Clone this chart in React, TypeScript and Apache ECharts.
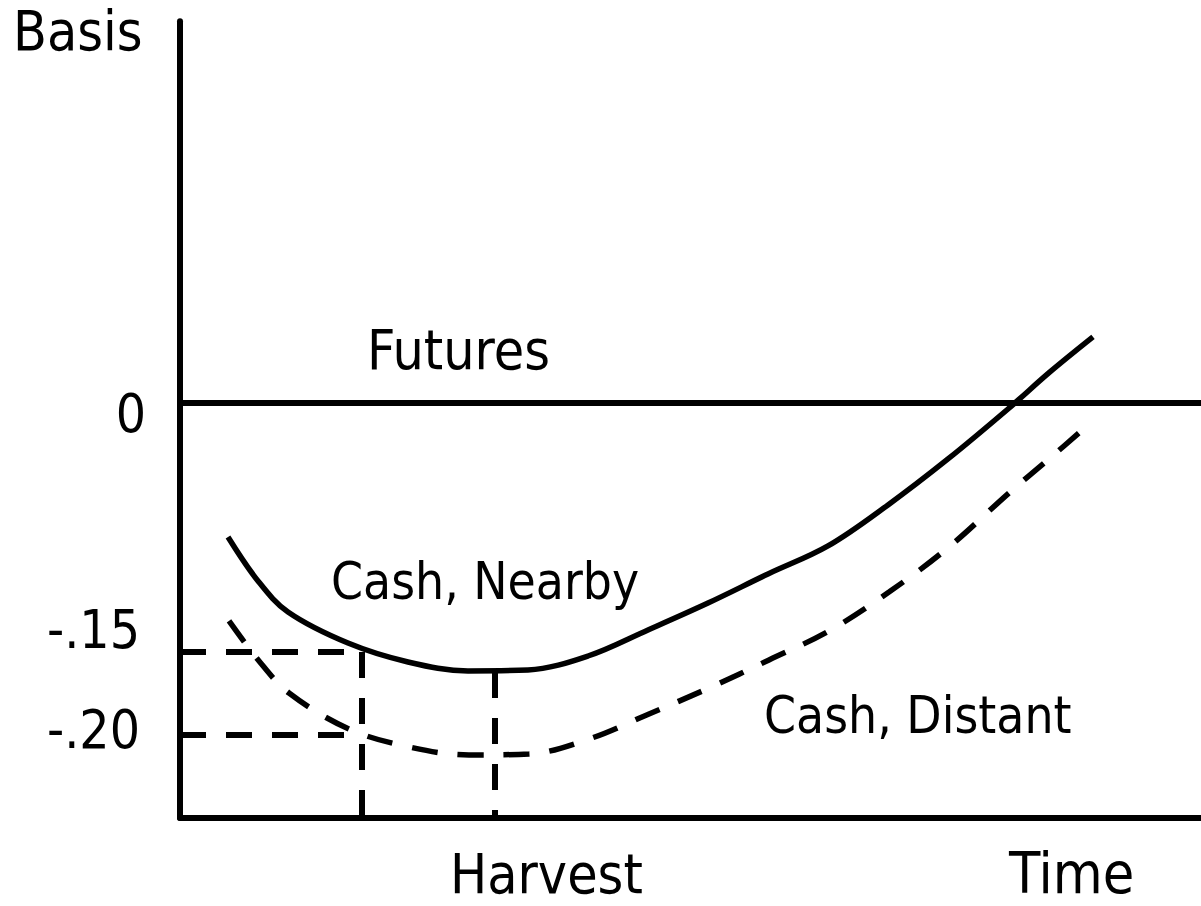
import React, { useEffect, useRef } from "react";
import * as echarts from "echarts";

// time axis (arbitrary units) and basis values
const timeMax = 102.1;
const basisMin = -0.25;
const basisMax = 0.23;

const nearbyTime = [4.8, 7.8, 10.8, 16.8, 22.8, 28.8, 34.8, 40.8, 46.8, 52.8, 58.8, 64.8, 70.8, 76.8, 82.8, 87.0, 91.3];
const nearbyBasis = [-0.0807, -0.1072, -0.1259, -0.1446, -0.156, -0.1614, -0.1608, -0.1524, -0.1367, -0.1205, -0.103, -0.0861, -0.0614, -0.0337, -0.0036, 0.0187, 0.0398];

const distantTime = [4.9, 7.9, 10.9, 16.9, 22.9, 28.9, 34.9, 40.9, 46.9, 52.9, 58.9, 64.9, 70.9, 76.9, 82.9, 86.9, 90.8];
const distantBasis = [-0.1313, -0.1554, -0.1747, -0.1964, -0.2072, -0.212, -0.2114, -0.2024, -0.1873, -0.1717, -0.1548, -0.1373, -0.1139, -0.0867, -0.0542, -0.0337, -0.0133];

const futuresTime = [0, timeMax];
const futuresBasis = [0, 0];

const earlyTime = 18.2;
const harvestTime = 31.5;
const nearbyLevel = -0.15;
const distantLevel = -0.2;
const harvestLow = -0.162;

const tickLabels = ["0", "-.15", "-.20"];
const axisTitleY = "Basis";
const axisTitleX = "Time";
const harvestLabel = "Harvest";
const seriesNames = ["Futures", "Cash, Nearby", "Cash, Distant"];

export default function App() {
  const ref = useRef<HTMLDivElement>(null);
  useEffect(() => {
    const chart = echarts.init(ref.current!, null, { renderer: "svg" });
    const fontFamily = '"DejaVu Sans Condensed", "DejaVu Sans", sans-serif';
    const zip = (xs: number[], ys: number[]) => xs.map((x, i) => [x, ys[i]]);
    const dash = [26, 20];
    const refLine = (data: number[][]) => ({
      type: "line",
      data,
      symbol: "none",
      silent: true,
      lineStyle: { color: "#000", width: 6, type: dash },
    });
    // baseline-based placement of a text
    const txt = (text: string, x: number, baseline: number, fs: number, align = "left") => ({
      type: "text",
      x,
      y: baseline - 0.346 * fs,
      silent: true,
      style: {
        text,
        fill: "#000",
        fontSize: fs,
        fontFamily,
        align,
        verticalAlign: "middle",
      },
    });
    chart.setOption({
      animation: false,
      backgroundColor: "#fff",
      grid: { left: 180, top: 21.2, width: 1021, height: 796.8 },
      xAxis: {
        type: "value",
        min: 0,
        max: timeMax,
        axisLine: { show: true, onZero: false, lineStyle: { color: "#000", width: 6 } },
        axisTick: { show: false },
        axisLabel: { show: false },
        splitLine: { show: false },
      },
      yAxis: {
        type: "value",
        min: basisMin,
        max: basisMax,
        axisLine: { show: true, onZero: false, lineStyle: { color: "#000", width: 6 } },
        axisTick: { show: false },
        axisLabel: { show: false },
        splitLine: { show: false },
      },
      series: [
        {
          name: seriesNames[0],
          type: "line",
          data: zip(futuresTime, futuresBasis),
          symbol: "none",
          lineStyle: { color: "#000", width: 6 },
        },
        {
          name: seriesNames[1],
          type: "line",
          data: zip(nearbyTime, nearbyBasis),
          symbol: "none",
          smooth: 0.35,
          lineStyle: { color: "#000", width: 5.5 },
        },
        {
          name: seriesNames[2],
          type: "line",
          data: zip(distantTime, distantBasis),
          symbol: "none",
          smooth: 0.35,
          lineStyle: { color: "#000", width: 5.5, type: dash },
        },
        refLine([[0, nearbyLevel], [earlyTime, nearbyLevel]]),
        refLine([[0, distantLevel], [earlyTime, distantLevel]]),
        refLine([[earlyTime, nearbyLevel], [earlyTime, basisMin]]),
        refLine([[harvestTime, harvestLow], [harvestTime, basisMin]]),
      ],
      graphic: [
        txt(axisTitleY, 13, 50, 55),
        txt(tickLabels[0], 146, 432, 53, "right"),
        txt(tickLabels[1], 140, 648, 53, "right"),
        txt(tickLabels[2], 140, 748, 53, "right"),
        txt(seriesNames[0], 367, 369, 55),
        txt(seriesNames[1], 331, 599, 51),
        txt(seriesNames[2], 764, 733, 51),
        txt(harvestLabel, 450, 893, 55),
        txt(axisTitleX, 1009, 893, 57),
      ],
    });
    return () => chart.dispose();
  }, []);
  return (
    <div
      ref={ref}
      style={{ position: "absolute", left: 0, top: 0, width: 1201, height: 906 }}
    />
  );
}
